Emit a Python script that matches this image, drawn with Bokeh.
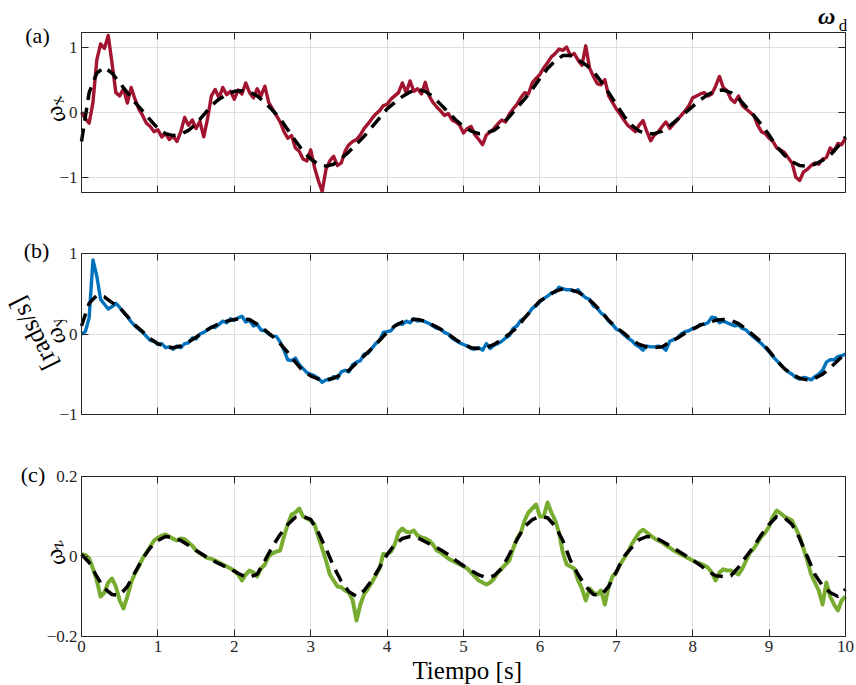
import math
from bokeh.plotting import figure
from bokeh.layouts import column
from bokeh.models import FixedTicker, LinearAxis, Range1d, Grid, Legend, LegendItem, Label
from bokeh.embed import file_html
from bokeh.resources import INLINE

# ---------------- data ----------------
t_des = [i / 10 for i in range(101)]      # desired-signal sample times [s]
t_act = [i / 20 for i in range(201)]      # measured-signal sample times [s]

wx_des = [-0.45, 0.3, 0.6, 0.69, 0.6, 0.45, 0.3, 0.15, 0.02, -0.12,
          -0.25, -0.33, -0.36, -0.34, -0.28, -0.18, -0.04, 0.1, 0.2, 0.27,
          0.32, 0.33, 0.31, 0.25, 0.15, 0.03, -0.1, -0.27, -0.44, -0.6,
          -0.72, -0.8, -0.83, -0.8, -0.71, -0.61, -0.49, -0.37, -0.23, -0.09,
          0.05, 0.15, 0.24, 0.31, 0.35, 0.32, 0.24, 0.12, 0.0, -0.12,
          -0.22, -0.29, -0.33, -0.32, -0.28, -0.19, -0.07, 0.07, 0.2, 0.35,
          0.52, 0.67, 0.79, 0.87, 0.87, 0.8, 0.73, 0.63, 0.47, 0.3,
          0.12, -0.06, -0.2, -0.29, -0.33, -0.33, -0.29, -0.21, -0.11, -0.01,
          0.09, 0.19, 0.27, 0.33, 0.34, 0.3, 0.21, 0.08, -0.05, -0.19,
          -0.35, -0.53, -0.66, -0.76, -0.82, -0.83, -0.8, -0.74, -0.66, -0.53,
          -0.38]

wx_act = [0.0, -0.1, -0.17, 0.15, 0.8, 1.05, 0.98, 1.18, 0.75, 0.3,
          0.25, 0.36, 0.14, 0.38, 0.2, 0.05, -0.05, -0.17, -0.22, -0.3,
          -0.27, -0.38, -0.33, -0.42, -0.37, -0.45, -0.3, -0.08, -0.2, -0.12,
          -0.25, -0.14, -0.38, -0.1, 0.25, 0.35, 0.22, 0.38, 0.27, 0.32,
          0.2, 0.34, 0.28, 0.45, 0.3, 0.22, 0.36, 0.25, 0.4, 0.15,
          0.05, -0.05, -0.15, -0.3, -0.4, -0.36, -0.55, -0.6, -0.72, -0.75,
          -0.58, -0.85, -1.05, -1.22, -0.88, -0.75, -0.68, -0.82, -0.78, -0.6,
          -0.5, -0.45, -0.42, -0.35, -0.25, -0.18, -0.1, -0.03, 0.02, 0.1,
          0.12, 0.2, 0.25, 0.3, 0.45, 0.3, 0.48, 0.32, 0.36, 0.28,
          0.46, 0.25, 0.15, 0.08, 0.02, -0.05, -0.02, -0.12, -0.15, -0.2,
          -0.32, -0.25, -0.22, -0.35, -0.42, -0.5, -0.35, -0.3, -0.25, -0.18,
          -0.12, -0.15, -0.03, 0.05, 0.12, 0.22, 0.3, 0.28, 0.45, 0.52,
          0.58, 0.68, 0.76, 0.85, 0.9, 0.97, 0.95, 1.0, 0.87, 0.9,
          0.8, 0.72, 1.02, 0.68, 0.55, 0.44, 0.42, 0.5, 0.25, 0.15,
          0.05, -0.03, -0.12, -0.2, -0.25, -0.3, -0.2, -0.13, -0.3, -0.44,
          -0.35, -0.3, -0.22, -0.15, -0.25, -0.18, -0.12, -0.05, 0.02, 0.1,
          0.22, 0.25, 0.28, 0.3, 0.25, 0.28, 0.4, 0.55, 0.38, 0.33,
          0.2, 0.15, 0.25, 0.1, 0.05, 0.0, -0.05, -0.2, -0.3, -0.33,
          -0.4, -0.45, -0.55, -0.58, -0.62, -0.7, -0.78, -1.0, -1.05, -0.92,
          -0.88, -0.82, -0.78, -0.8, -0.72, -0.7, -0.55, -0.6, -0.48, -0.5,
          -0.4]

wy_des = [0.1, 0.38, 0.48, 0.46, 0.39, 0.33, 0.22, 0.11, 0.03, -0.06,
          -0.12, -0.16, -0.17, -0.15, -0.1, -0.04, 0.03, 0.08, 0.13, 0.16,
          0.18, 0.19, 0.18, 0.12, 0.05, -0.03, -0.12, -0.23, -0.35, -0.46,
          -0.52, -0.56, -0.57, -0.55, -0.5, -0.45, -0.36, -0.27, -0.18, -0.08,
          0.02, 0.1, 0.15, 0.18, 0.18, 0.16, 0.11, 0.06, 0.0, -0.07,
          -0.13, -0.17, -0.18, -0.17, -0.13, -0.07, 0.0, 0.08, 0.2, 0.31,
          0.41, 0.47, 0.53, 0.56, 0.55, 0.52, 0.46, 0.38, 0.28, 0.17,
          0.08, 0.01, -0.07, -0.13, -0.16, -0.17, -0.16, -0.1, -0.05, 0.01,
          0.06, 0.11, 0.14, 0.17, 0.18, 0.17, 0.13, 0.06, -0.02, -0.1,
          -0.21, -0.33, -0.43, -0.5, -0.55, -0.57, -0.55, -0.5, -0.42, -0.33,
          -0.24]

wy_act = [0.0, 0.03, 0.2, 0.92, 0.72, 0.43, 0.37, 0.31, 0.34, 0.38,
          0.33, 0.27, 0.22, 0.15, 0.1, 0.06, 0.02, -0.03, -0.08, -0.09,
          -0.13, -0.12, -0.17, -0.16, -0.19, -0.15, -0.17, -0.12, -0.11, -0.05,
          -0.06, 0.0, 0.02, 0.05, 0.09, 0.08, 0.12, 0.16, 0.14, 0.19,
          0.17, 0.2, 0.22, 0.15, 0.17, 0.1, 0.12, 0.05, 0.04, 0.0,
          -0.03, -0.03, -0.1, -0.2, -0.32, -0.33, -0.3, -0.38, -0.43, -0.48,
          -0.5, -0.52, -0.55, -0.6, -0.57, -0.57, -0.53, -0.55, -0.47, -0.45,
          -0.47, -0.38, -0.35, -0.33, -0.25, -0.24, -0.18, -0.12, -0.08, 0.02,
          0.03, 0.04, 0.1, 0.13, 0.12, 0.16, 0.14, 0.19, 0.16, 0.17,
          0.15, 0.13, 0.1, 0.07, 0.06, 0.02, 0.0, -0.05, -0.08, -0.11,
          -0.13, -0.15, -0.18, -0.19, -0.17, -0.2, -0.12, -0.18, -0.14, -0.12,
          -0.09, -0.05, -0.02, 0.07, 0.1, 0.17, 0.2, 0.25, 0.32, 0.35,
          0.4, 0.44, 0.47, 0.51, 0.52, 0.58, 0.56, 0.55, 0.55, 0.53,
          0.55, 0.49, 0.45, 0.43, 0.35, 0.32, 0.26, 0.23, 0.16, 0.12,
          0.06, 0.04, -0.01, -0.05, -0.08, -0.13, -0.16, -0.2, -0.15, -0.16,
          -0.16, -0.15, -0.16, -0.2, -0.09, -0.07, -0.05, 0.0, 0.03, 0.04,
          0.07, 0.08, 0.12, 0.12, 0.14, 0.21, 0.2, 0.14, 0.16, 0.14,
          0.12, 0.1, 0.11, 0.07, 0.05, 0.0, -0.04, -0.08, -0.12, -0.17,
          -0.22, -0.28, -0.33, -0.38, -0.43, -0.47, -0.5, -0.54, -0.56, -0.54,
          -0.55, -0.57, -0.53, -0.5, -0.45, -0.35, -0.32, -0.32, -0.28, -0.27,
          -0.25]

wz_des = [0.005, -0.015, -0.05, -0.08, -0.095, -0.097, -0.075, -0.04, -0.005, 0.022,
          0.04, 0.05, 0.047, 0.04, 0.028, 0.015, 0.003, -0.008, -0.018, -0.027,
          -0.037, -0.047, -0.052, -0.044, -0.01, 0.025, 0.055, 0.08, 0.098, 0.1,
          0.093, 0.06, 0.02, -0.025, -0.062, -0.088, -0.1, -0.085, -0.06, -0.028,
          0.005, 0.03, 0.045, 0.05, 0.047, 0.037, 0.027, 0.017, 0.005, -0.01,
          -0.023, -0.035, -0.046, -0.053, -0.048, -0.03, 0.005, 0.042, 0.075, 0.092,
          0.1, 0.097, 0.076, 0.04, -0.01, -0.045, -0.075, -0.095, -0.097, -0.075,
          -0.038, 0.0, 0.022, 0.042, 0.05, 0.048, 0.038, 0.027, 0.015, 0.003,
          -0.009, -0.022, -0.037, -0.048, -0.05, -0.048, -0.027, 0.0, 0.025, 0.055,
          0.08, 0.1, 0.097, 0.08, 0.045, 0.0, -0.045, -0.073, -0.09, -0.1,
          -0.082]

wz_act = [0.006, 0.004, -0.005, -0.03, -0.06, -0.1, -0.09, -0.065, -0.055, -0.075,
          -0.11, -0.13, -0.1, -0.065, -0.042, -0.025, -0.005, 0.01, 0.025, 0.04,
          0.047, 0.052, 0.055, 0.05, 0.044, 0.04, 0.045, 0.043, 0.035, 0.027,
          0.015, 0.008, 0.002, -0.004, -0.006, -0.01, -0.015, -0.02, -0.025, -0.03,
          -0.035, -0.045, -0.06, -0.045, -0.035, -0.04, -0.05, -0.03, -0.02, 0.0,
          0.008, 0.012, 0.015, 0.05, 0.08, 0.105, 0.11, 0.12, 0.1, 0.095,
          0.09, 0.08, 0.05, 0.02, -0.01, -0.045, -0.06, -0.075, -0.077, -0.085,
          -0.09, -0.11, -0.16, -0.12, -0.094, -0.08, -0.065, -0.048, -0.03, 0.006,
          0.005, 0.012, 0.03, 0.06, 0.07, 0.062, 0.06, 0.065, 0.052, 0.048,
          0.045, 0.04, 0.03, 0.015, 0.01, 0.003, -0.005, -0.01, -0.015, -0.02,
          -0.025, -0.03, -0.04, -0.05, -0.06, -0.065, -0.07, -0.065, -0.055, -0.04,
          -0.03, -0.02, -0.01, 0.02, 0.045, 0.06, 0.09, 0.11, 0.12, 0.13,
          0.1, 0.1, 0.135, 0.11, 0.09, 0.06, 0.01, -0.02, -0.025, -0.03,
          -0.06, -0.08, -0.11, -0.08, -0.09, -0.095, -0.085, -0.12, -0.075, -0.05,
          -0.04, -0.02, -0.005, 0.01, 0.03, 0.045, 0.06, 0.067, 0.06, 0.052,
          0.045, 0.04, 0.035, 0.028, 0.022, 0.015, 0.01, 0.005, 0.0, -0.005,
          -0.01, -0.015, -0.018, -0.022, -0.028, -0.04, -0.06, -0.04, -0.032, -0.035,
          -0.035, -0.04, -0.045, -0.03, -0.01, 0.01, 0.02, 0.035, 0.05, 0.06,
          0.075, 0.1, 0.115, 0.108, 0.1, 0.095, 0.09, 0.07, 0.05, 0.02,
          -0.01, -0.045, -0.065, -0.085, -0.12, -0.065, -0.1, -0.12, -0.135, -0.11,
          -0.1]

x_ticks = [0, 1, 2, 3, 4, 5, 6, 7, 8, 9, 10]
y_ticks_ab = [-1, 0, 1]
y_labels_ab = {-1: "\u22121", 0: "0", 1: "1"}
y_ticks_c = [-0.2, 0, 0.2]
y_labels_c = {-0.2: "\u22120.2", 0: "0", 0.2: "0.2"}

# ---------------- layout / style ----------------
SERIF = "Liberation Serif"
AX = "#262626"
GRID = "#dfdfdf"
RED, BLUE, GREEN = "#A2142F", "#0072BD", "#77AC30"
W = 856
BOX_L, BOX_R = 81, 845          # pixel columns of x = 0 and x = 10
X0, X1 = 0, 10
PX_PER_X = (BOX_R - BOX_L) / (X1 - X0)
XR = (X0 - BOX_L / PX_PER_X, X1 + (W - BOX_R) / PX_PER_X)
VERT = 90   # rotation value that this renderer draws as a quarter turn (bottom-to-top text)


def px_x(px):
    return X0 + (px - BOX_L) / PX_PER_X


def style_axis(ax, labels):
    ax.axis_line_color = AX
    ax.axis_line_width = 1
    ax.major_tick_line_color = AX
    ax.major_tick_in = 7
    ax.major_tick_out = 0
    ax.minor_tick_line_color = None
    ax.major_label_text_font = SERIF
    ax.major_label_text_font_size = "17px"
    ax.major_label_text_color = AX
    ax.major_label_standoff = 4
    if labels is None:
        ax.major_label_overrides = {t: "" for t in ax.ticker.ticks}
        ax.major_label_standoff = 0
    elif labels:
        ax.major_label_overrides = labels


class Panel:
    def __init__(self, ylo, yhi, yticks, ylabels, height, box_top, box_h, show_x):
        self.ylo, self.yhi, self.top, self.h = ylo, yhi, box_top, box_h
        self.per_px = (yhi - ylo) / box_h
        yr = (ylo - (height - box_top - box_h) * self.per_px, yhi + box_top * self.per_px)
        p = figure(output_backend="svg", toolbar_location=None, width=W, height=height,
                   x_range=Range1d(*XR), y_range=Range1d(*yr),
                   min_border=0, x_axis_type=None, y_axis_type=None,
                   background_fill_color="white", border_fill_color="white",
                   outline_line_color=None)
        xt = FixedTicker(ticks=x_ticks)
        yt = FixedTicker(ticks=yticks)
        p.add_layout(Grid(dimension=0, ticker=xt, bounds=(X0, X1), cross_bounds=(ylo, yhi),
                          grid_line_color=GRID, grid_line_width=1))
        p.add_layout(Grid(dimension=1, ticker=yt, bounds=(ylo, yhi), cross_bounds=(X0, X1),
                          grid_line_color=GRID, grid_line_width=1))
        for loc, fix, show in (("below", ylo, show_x), ("above", yhi, False)):
            ax = LinearAxis(ticker=xt, fixed_location=fix, bounds=(X0, X1))
            style_axis(ax, {} if show else None)
            p.add_layout(ax, loc)
        for loc, fix, show in (("left", X0, True), ("right", X1, False)):
            ax = LinearAxis(ticker=yt, fixed_location=fix, bounds=(ylo, yhi))
            style_axis(ax, ylabels if show else None)
            p.add_layout(ax, loc)
        self.p = p

    def py(self, local_px):
        return self.yhi - (local_px - self.top) * self.per_px

    def text(self, px, py, s, size, style="normal", base="middle", angle=0.0):
        self.p.add_layout(Label(x=px_x(px), y=self.py(py), text=s, angle=angle,
                                text_font=SERIF, text_font_size=size,
                                text_font_style=style, text_color="black",
                                text_align="center", text_baseline=base))

    def omega_label(self, y_om, y_sub, sub):
        self.text(55, y_om, "\u03c9", "24px", style="italic", base="alphabetic", angle=VERT)
        self.text(57, y_sub, sub, "17px", base="alphabetic", angle=VERT)


DASH = "13 8"

# panel (a)  : page rows 0..222
A = Panel(-1.235, 1.225, y_ticks_ab, y_labels_ab, 222, 32, 160, False)
A.p.line(t_act, wx_act, line_color=RED, line_width=3.4, line_join="round")
A.p.line(t_des, wx_des, line_color="black", line_width=3.5, line_dash=DASH)
A.text(37, 35, "(a)", "22px")
A.omega_label(114.5, 101, "x")
key = A.p.line([], [], line_color="black", line_width=3.5, line_dash="15 9")
legend = Legend(items=[LegendItem(label="\u03c9", renderers=[key])],
                location=(743, 192), orientation="horizontal",
                glyph_width=64, glyph_height=24, label_height=24, label_standoff=11,
                padding=0, margin=0, spacing=0,
                label_text_font=SERIF, label_text_font_size="24px",
                label_text_font_style="bold italic", label_text_color="black",
                border_line_color=None, background_fill_alpha=0)
A.p.add_layout(legend)
A.text(842.5, 25, "d", "17px", base="alphabetic")

# panel (b)  : page rows 222..445
B = Panel(-1.0, 1.0, y_ticks_ab, y_labels_ab, 223, 31, 161, False)
B.p.line(t_act, wy_act, line_color=BLUE, line_width=3.4, line_join="round")
B.p.line(t_des, wy_des, line_color="black", line_width=3.5, line_dash=DASH)
B.text(36, 250 - 222, "(b)", "22px")
B.text(33, 333 - 222, "[rads/s]", "26px", base="alphabetic", angle=VERT)
B.omega_label(336 - 222, 322.5 - 222, "y")

# panel (c)  : page rows 445..685
C = Panel(-0.2, 0.2, y_ticks_c, y_labels_c, 240, 31, 160, True)
C.p.line(t_act, wz_act, line_color=GREEN, line_width=4.0, line_join="round")
C.p.line(t_des, wz_des, line_color="black", line_width=3.5, line_dash=DASH)
C.text(32.5, 474 - 445, "(c)", "22px")
C.omega_label(557.5 - 445, 545 - 445, "z")
C.text(466.7, 670 - 445, "Tiempo [s]", "25px")

layout = column(A.p, B.p, C.p, spacing=0)
open("out.html", "w").write(file_html(layout, INLINE))
